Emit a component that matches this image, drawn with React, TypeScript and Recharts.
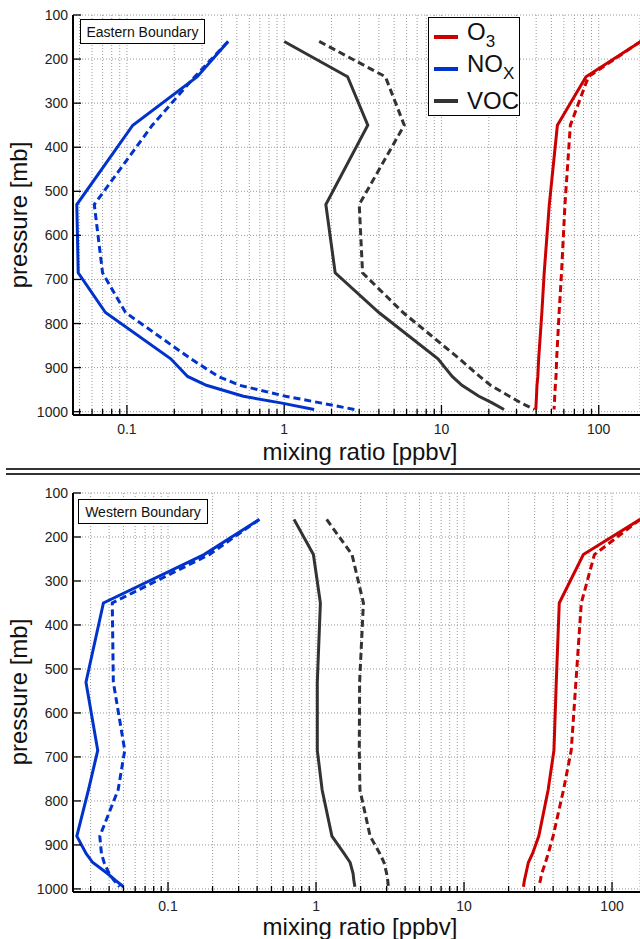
import React from 'react';
import { ScatterChart, Scatter, XAxis, YAxis, CartesianGrid } from 'recharts';

// pressure levels of the profiles (mb)
const levels = [160, 240, 350, 530, 685, 775, 880, 920, 940, 965, 980, 995];

// Eastern boundary (solid / dashed)
const eastNOx = [0.44, 0.28, 0.109, 0.048, 0.049, 0.073, 0.19, 0.243, 0.32, 0.55, 0.95, 1.55];
const eastNOxDash = [0.44, 0.27, 0.145, 0.062, 0.07, 0.098, 0.255, 0.38, 0.52, 1.02, 1.7, 2.8];
const eastVOC = [1.0, 2.53, 3.4, 1.84, 2.11, 4.0, 9.5, 11.7, 13.5, 17.3, 21, 25];
const eastVOCDash = [1.67, 4.4, 5.8, 3.0, 3.15, 5.7, 13, 17.5, 20.5, 27, 32, 39];
const eastO3 = [185, 83, 54.6, 48.5, 45, 43.5, 41.5, 41, 40.5, 40.2, 40, 39.8];
const eastO3Dash = [185, 86, 66, 61, 58, 56, 54, 53.5, 53, 52.5, 52.3, 52];

// Western boundary (solid / dashed)
const westNOx = [0.414, 0.175, 0.0366, 0.0279, 0.0335, 0.029, 0.0242, 0.028, 0.031, 0.039, 0.044, 0.05];
const westNOxDash = [0.414, 0.19, 0.042, 0.0427, 0.051, 0.046, 0.0346, 0.0355, 0.037, 0.04, 0.043, 0.047];
const westVOC = [0.71, 0.96, 1.07, 1.02, 1.02, 1.1, 1.28, 1.55, 1.7, 1.78, 1.8, 1.83];
const westVOCDash = [1.18, 1.75, 2.09, 1.97, 1.96, 1.98, 2.32, 2.7, 2.88, 3.0, 3.05, 3.08];
const westO3 = [155, 64, 44, 42, 40.5, 37, 32, 29, 27.2, 26.2, 25.6, 25.2];
const westO3Dash = [155, 76, 62, 57, 53, 47, 40, 37, 35.5, 33.5, 32.8, 32];

const pressureTicks = [100, 200, 300, 400, 500, 600, 700, 800, 900, 1000];
const decades = [0.01, 0.1, 1, 10, 100];
const mantissas = [1, 2, 3, 4, 5, 6, 7, 8, 9];

const RED = '#cc0000';
const BLUE = '#0033cc';
const GRAY = '#333333';
const FONT = "'Liberation Sans', Arial, sans-serif";

const toPoints = (vals: number[]) => levels.map((p, i) => ({ x: vals[i], p }));

const logTicks = (lo: number, hi: number) => {
  const out: number[] = [];
  decades.forEach((d) => mantissas.forEach((m) => {
    const v = m * d;
    if (v >= lo && v <= hi) out.push(v);
  }));
  return out;
};

const isMajor = (v: number) => Math.abs(Math.log10(v) - Math.round(Math.log10(v))) < 1e-6;

const XTick = (props: any) => {
  const { x, y, payload } = props;
  const v = payload.value;
  const major = isMajor(v);
  return (
    <g>
      <line x1={x} x2={x} y1={y} y2={y - (major ? 10 : 6)} stroke="#000" strokeWidth={1.3} />
      {major && (
        <text x={x} y={y + 19} textAnchor="middle" fontSize={14} fontFamily={FONT} fill="#222">
          {String(Math.round(v * 1000) / 1000)}
        </text>
      )}
    </g>
  );
};

const YTick = (props: any) => {
  const { x, y, payload } = props;
  return (
    <g>
      <line x1={x} x2={x + 8} y1={y} y2={y} stroke="#000" strokeWidth={1.3} />
      <text x={x - 5} y={y + 5} textAnchor="end" fontSize={14} fontFamily={FONT} fill="#222">
        {payload.value}
      </text>
    </g>
  );
};

const noShape = () => <g />;

type PanelProps = {
  top: number;
  height: number;
  xAxisHeight: number;
  domain: [number, number];
  yMax: number;
  series: { vals: number[]; color: string; dashed: boolean }[];
};

const Panel = ({ top, height, xAxisHeight, domain, yMax, series }: PanelProps) => (
  <div style={{ position: 'absolute', left: 0, top }}>
    <ScatterChart width={640} height={height} margin={{ top: 15, right: 0, bottom: 0, left: 0 }}>
      <CartesianGrid stroke="#999" strokeDasharray="1 2" />
      <XAxis
        type="number"
        dataKey="x"
        scale="log"
        domain={domain}
        allowDataOverflow
        ticks={logTicks(domain[0], domain[1])}
        interval={0}
        height={xAxisHeight}
        tickSize={0}
        tickMargin={0}
        tickLine={false}
        tick={<XTick />}
        axisLine={{ stroke: '#000', strokeWidth: 2 }}
      />
      <YAxis
        type="number"
        dataKey="p"
        reversed
        domain={[100, yMax]}
        allowDataOverflow
        ticks={pressureTicks}
        interval={0}
        width={73}
        tickSize={0}
        tickMargin={0}
        tickLine={false}
        tick={<YTick />}
        axisLine={{ stroke: '#000', strokeWidth: 2 }}
      />
      {series.map((s, i) => (
        <Scatter
          key={i}
          data={toPoints(s.vals)}
          fill={s.color}
          line={{ stroke: s.color, strokeWidth: 3, strokeDasharray: s.dashed ? '7 4' : undefined }}
          lineType="joint"
          shape={noShape}
          isAnimationActive={false}
        />
      ))}
    </ScatterChart>
  </div>
);

const boxStyle: React.CSSProperties = {
  position: 'absolute',
  border: '1.5px solid #000',
  background: '#fff',
  boxSizing: 'border-box',
  fontFamily: FONT,
  fontSize: 14,
  color: '#111',
  display: 'flex',
  alignItems: 'center',
  justifyContent: 'center',
};

const xTitle: React.CSSProperties = {
  position: 'absolute',
  left: 210,
  width: 300,
  textAlign: 'center',
  fontFamily: FONT,
  fontSize: 24,
  lineHeight: '22px',
  color: '#111',
  whiteSpace: 'nowrap',
};

const yTitle: React.CSSProperties = {
  position: 'absolute',
  left: 19,
  fontFamily: FONT,
  fontSize: 24,
  lineHeight: '26px',
  color: '#111',
  whiteSpace: 'nowrap',
  transform: 'translate(-50%, -50%) rotate(-90deg)',
};

const legendItems = [
  { color: RED, name: 'O', sub: '3' },
  { color: BLUE, name: 'NO', sub: 'X' },
  { color: GRAY, name: 'VOC', sub: '' },
];

export default function App() {
  return (
    <div style={{ position: 'absolute', left: 0, top: 0, width: 640, height: 939, background: '#fff', overflow: 'hidden' }}>
      <Panel
        top={0}
        height={470}
        xAxisHeight={55}
        domain={[0.0454, 183]}
        yMax={1007.5}
        series={[
          { vals: eastNOxDash, color: BLUE, dashed: true },
          { vals: eastNOx, color: BLUE, dashed: false },
          { vals: eastVOCDash, color: GRAY, dashed: true },
          { vals: eastVOC, color: GRAY, dashed: false },
          { vals: eastO3Dash, color: RED, dashed: true },
          { vals: eastO3, color: RED, dashed: false },
        ]}
      />
      <Panel
        top={478}
        height={461}
        xAxisHeight={47}
        domain={[0.0228, 154.5]}
        yMax={1007}
        series={[
          { vals: westNOxDash, color: BLUE, dashed: true },
          { vals: westNOx, color: BLUE, dashed: false },
          { vals: westVOCDash, color: GRAY, dashed: true },
          { vals: westVOC, color: GRAY, dashed: false },
          { vals: westO3Dash, color: RED, dashed: true },
          { vals: westO3, color: RED, dashed: false },
        ]}
      />

      <div style={{ ...boxStyle, left: 80, top: 19, width: 125, height: 25 }}>Eastern Boundary</div>
      <div style={{ ...boxStyle, left: 78, top: 499, width: 130, height: 25 }}>Western Boundary</div>

      <div style={{ ...boxStyle, left: 428, top: 17, width: 92, height: 99, display: 'block' }}>
        {legendItems.map((it, i) => (
          <div key={i} style={{ position: 'absolute', left: 0, top: 4 + i * 32, height: 30, width: 90, display: 'flex', alignItems: 'center' }}>
            <div style={{ marginLeft: 5, width: 24, height: 4, background: it.color }} />
            <span style={{ marginLeft: 9, fontSize: 24, lineHeight: '26px', color: '#111' }}>
              {it.name}
              {it.sub && <sub style={{ fontSize: 17, verticalAlign: -7 }}>{it.sub}</sub>}
            </span>
          </div>
        ))}
      </div>

      <div style={{ ...xTitle, top: 441 }}>mixing ratio [ppbv]</div>
      <div style={{ ...xTitle, top: 916 }}>mixing ratio [ppbv]</div>
      <div style={{ ...yTitle, top: 215 }}>pressure [mb]</div>
      <div style={{ ...yTitle, top: 692 }}>pressure [mb]</div>

      <div style={{ position: 'absolute', left: 6, right: 0, top: 468, height: 2, background: GRAY }} />
      <div style={{ position: 'absolute', left: 6, right: 0, top: 473, height: 2, background: GRAY }} />
    </div>
  );
}
